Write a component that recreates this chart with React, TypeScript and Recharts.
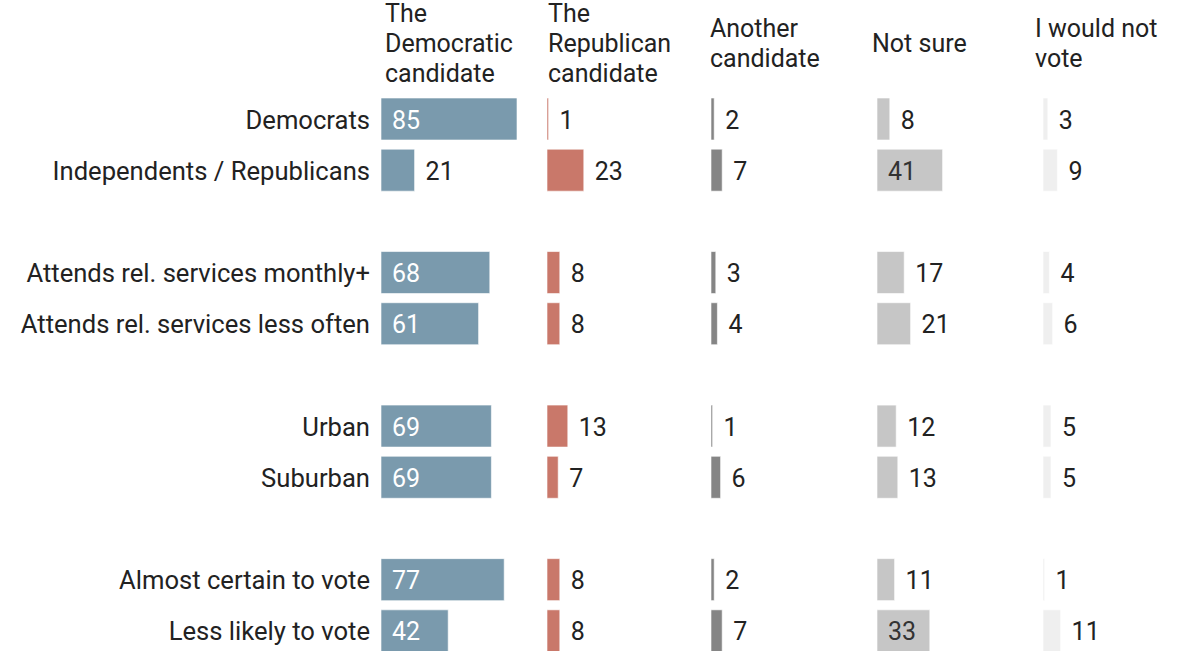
import React from 'react';
import { BarChart, Bar, XAxis, YAxis, LabelList } from 'recharts';

const categories = [
  'Democrats',
  'Independents / Republicans',
  'Attends rel. services monthly+',
  'Attends rel. services less often',
  'Urban',
  'Suburban',
  'Almost certain to vote',
  'Less likely to vote',
];

const democratic = [85, 21, 68, 61, 69, 69, 77, 42];
const republican = [1, 23, 8, 8, 13, 7, 8, 8];
const another = [2, 7, 3, 4, 1, 6, 2, 7];
const notSure = [8, 41, 17, 21, 12, 13, 11, 33];
const wouldNotVote = [3, 9, 4, 6, 5, 5, 1, 11];

const headers = [
  ['The', 'Democratic', 'candidate'],
  ['The', 'Republican', 'candidate'],
  ['Another', 'candidate'],
  ['Not sure'],
  ['I would not', 'vote'],
];

const series = [
  { values: democratic, color: '#7a9aad', inside: '#ffffff' },
  { values: republican, color: '#c9786a', inside: '#ffffff' },
  { values: another, color: '#858585', inside: '#ffffff' },
  { values: notSure, color: '#c6c6c6', inside: '#333333' },
  { values: wouldNotVote, color: '#efefef', inside: '#333333' },
];

// rows with a blank spacer after every pair
const buildRows = (values: number[]) => {
  const rows: { key: string; value: number | null }[] = [];
  categories.forEach((c, i) => {
    rows.push({ key: c, value: values[i] });
    if (i % 2 === 1 && i < categories.length - 1) rows.push({ key: `gap${i}`, value: null });
  });
  return rows;
};

const FONT = 'Roboto, "Noto Sans", sans-serif';
const TEXT = '#222222';
const FS = 25;
const CHART_H = 660;
const MARGIN = { top: 93, bottom: 4 };
const PLOT_W = 160;
const LABEL_W = 381;
const colWidths = [166, 164, 166, 166, 149];
const headerLefts = [385, 548, 710, 872, 1035];

const ValueLabel = (props: any) => {
  const { x, y, width, height, value, insideColor } = props;
  if (value === null || value === undefined) return null;
  const inside = value >= 30;
  return (
    <text
      x={inside ? x + 11 : x + width + 11}
      y={y + height / 2 + 1}
      dominantBaseline="central"
      fill={inside ? insideColor : TEXT}
      fontSize={FS}
      fontFamily={FONT}
    >
      {value}
    </text>
  );
};

const RowTick = (props: any) => {
  const { x, y, payload } = props;
  if (String(payload.value).startsWith('gap')) return null;
  return (
    <text x={x} y={y + 1} textAnchor="end" dominantBaseline="central" fill={TEXT} fontSize={25.6} fontFamily={FONT}>
      {payload.value}
    </text>
  );
};

const App: React.FC = () => {
  return (
    <div style={{ position: 'relative', width: 1192, height: 651, overflow: 'hidden', background: '#fff', fontFamily: FONT }}>
      <style>{'body{margin:0}'}</style>
      {headers.map((lines, i) => (
        <div
          key={i}
          style={{
            position: 'absolute',
            left: headerLefts[i],
            top: -1,
            height: 90,
            display: 'flex',
            flexDirection: 'column',
            justifyContent: 'center',
            fontSize: FS,
            lineHeight: '30px',
            color: TEXT,
            whiteSpace: 'nowrap',
          }}
        >
          {lines.map((l) => (
            <div key={l}>{l}</div>
          ))}
        </div>
      ))}
      <div style={{ position: 'absolute', left: 0, top: 0, display: 'flex' }}>
        {series.map((s, i) => {
          const width = (i === 0 ? LABEL_W : 0) + colWidths[i];
          const leftPad = i === 0 ? LABEL_W : 0;
          return (
            <BarChart
              key={i}
              width={width}
              height={CHART_H}
              data={buildRows(s.values)}
              layout="vertical"
              barSize={42}
              margin={{ top: MARGIN.top, bottom: MARGIN.bottom, left: 0, right: width - leftPad - PLOT_W }}
            >
              <XAxis type="number" domain={[0, 100]} hide />
              <YAxis
                type="category"
                dataKey="key"
                width={leftPad}
                hide={i !== 0}
                axisLine={false}
                tickLine={false}
                tickSize={0}
                tickMargin={11}
                interval={0}
                tick={<RowTick />}
              />
              <Bar dataKey="value" fill={s.color} stroke="#ffffff" strokeOpacity={0.6} strokeWidth={1} isAnimationActive={false}>
                <LabelList dataKey="value" content={<ValueLabel insideColor={s.inside} />} />
              </Bar>
            </BarChart>
          );
        })}
      </div>
    </div>
  );
};

export default App;
